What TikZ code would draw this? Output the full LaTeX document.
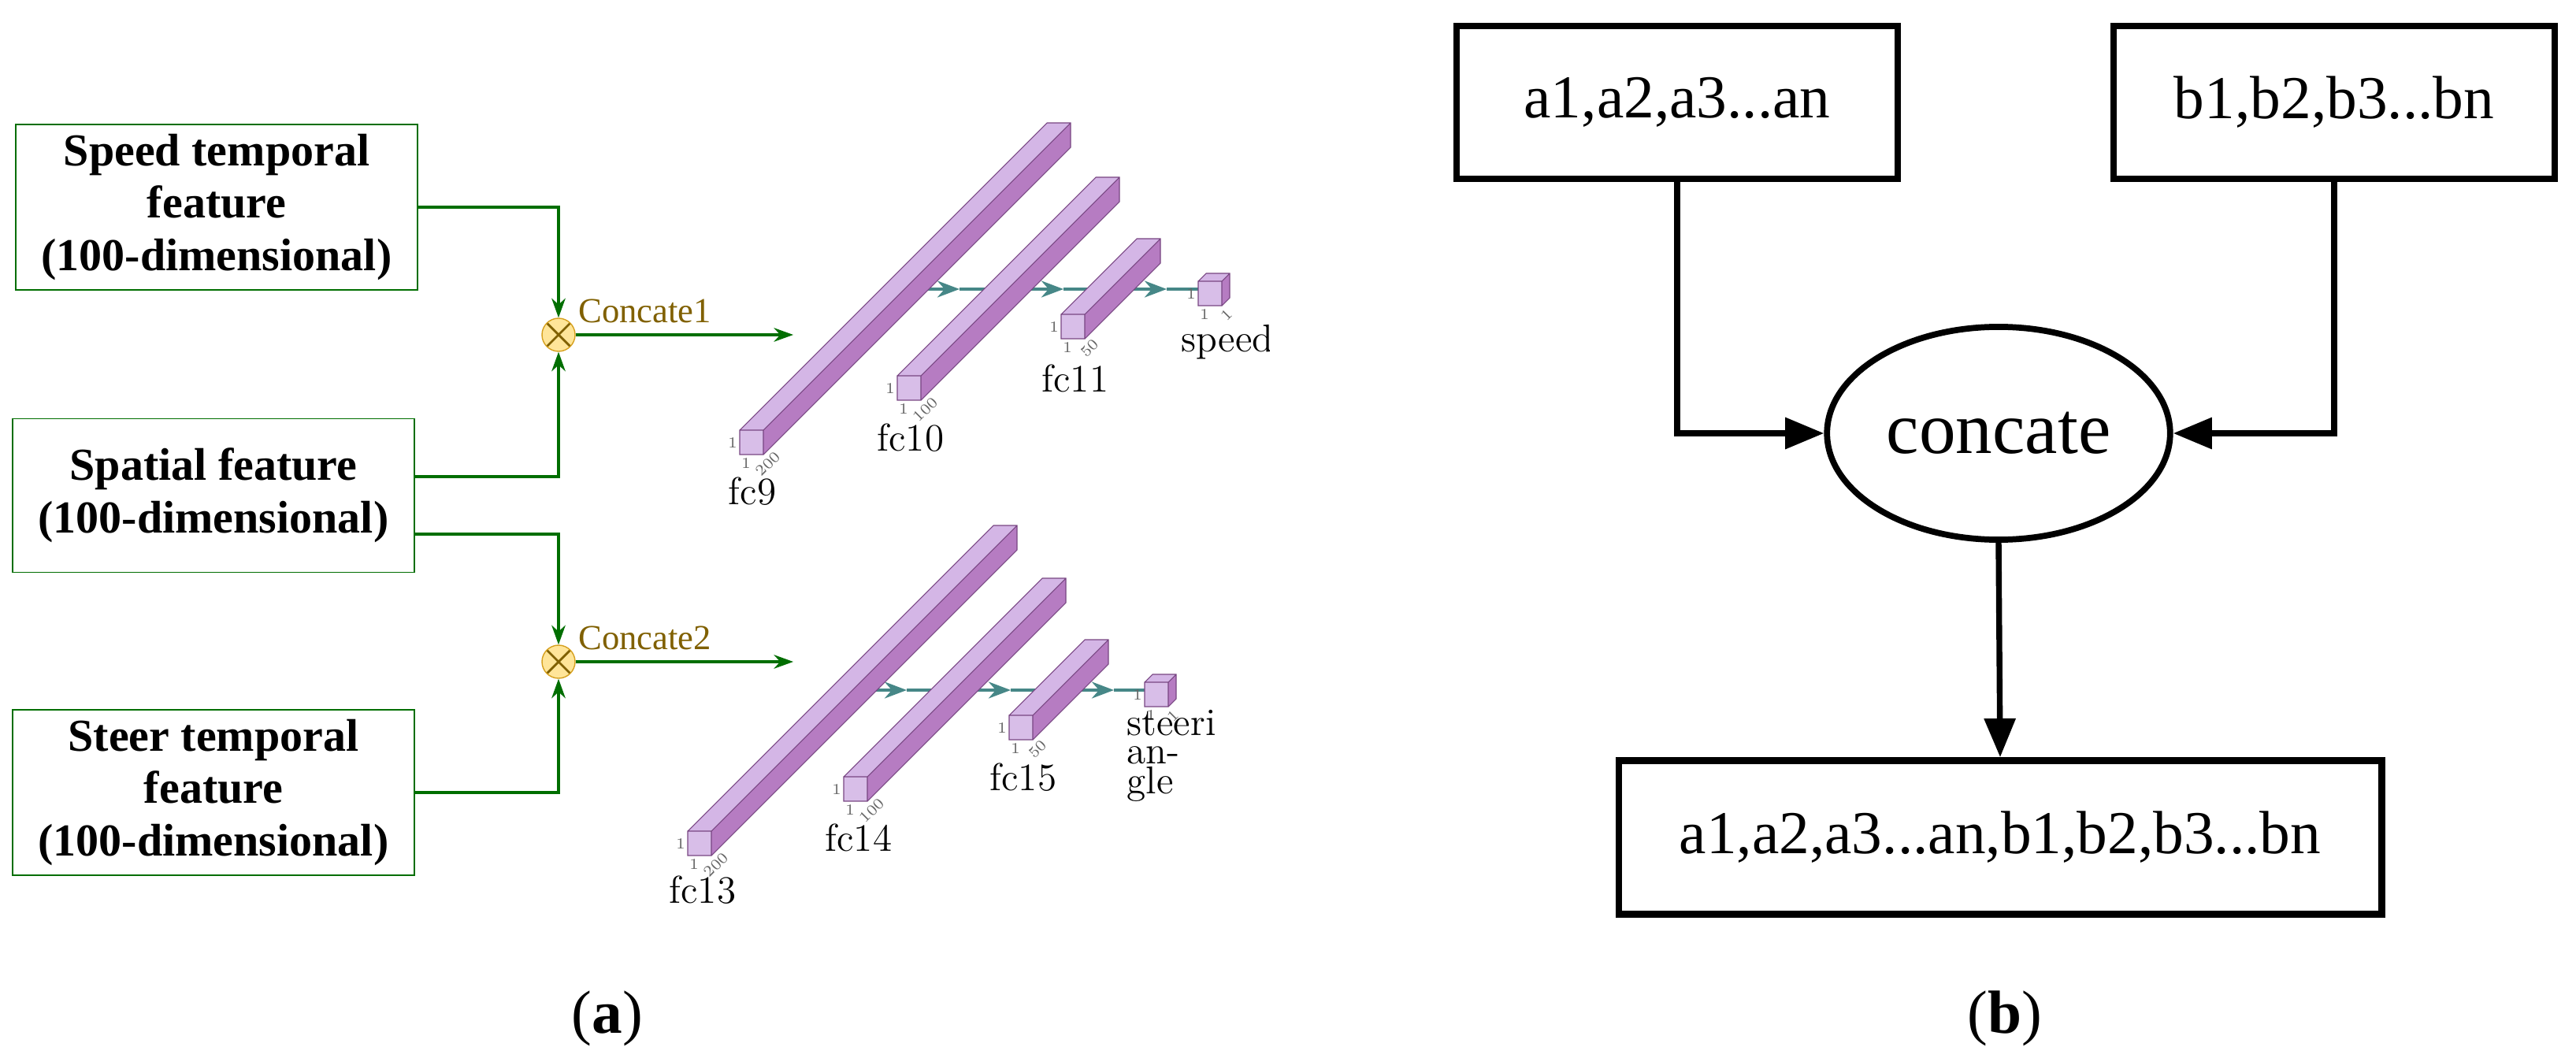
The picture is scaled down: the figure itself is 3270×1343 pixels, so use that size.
\documentclass[tikz,border=0pt]{standalone}
\usepackage{fontspec}
\newfontfamily\tnr{Liberation Serif}
\usetikzlibrary{arrows.meta,shapes.geometric}

\definecolor{boxgreen}{RGB}{0,110,0}
\definecolor{catbrown}{RGB}{128,96,0}
\definecolor{catfill}{RGB}{255,229,153}
\definecolor{catdraw}{RGB}{214,160,30}
\definecolor{barfront}{RGB}{216,190,232}
\definecolor{bartop}{RGB}{212,182,230}
\definecolor{barside}{RGB}{182,124,194}
\definecolor{barline}{RGB}{120,70,130}
\definecolor{flowteal}{RGB}{70,135,135}

\tikzset{
  feat/.style={draw=boxgreen, line width=0.5pt, minimum width=5.09cm, minimum height=1.95cm,
    align=center, font=\tnr\fontsize{16.5}{19}\selectfont\bfseries},
  cat/.style={circle, draw=catdraw, fill=catfill, minimum size=0.42cm, inner sep=0pt,
    path picture={\draw[catbrown, line width=0.8pt]
      ([shift={(135:0.21cm)}]path picture bounding box.center) -- ([shift={(-45:0.21cm)}]path picture bounding box.center)
      ([shift={(45:0.21cm)}]path picture bounding box.center) -- ([shift={(-135:0.21cm)}]path picture bounding box.center);}},
  catlabel/.style={anchor=west, text=catbrown, font=\tnr\fontsize{12.7}{14}\selectfont},
  garrow/.style={draw=boxgreen, line width=0.9pt, -{Stealth[length=7pt,width=5pt]}},
  flow/.style={draw=flowteal, line width=0.9pt},
  fclabel/.style={font=\fontsize{14}{9}\selectfont},
  dimlabel/.style={font=\fontsize{5.5}{6}\selectfont, text=black!60, inner sep=0.5pt},
  seq/.style={draw, line width=2.4pt, minimum width=5.6cm, minimum height=1.94cm,
    font=\tnr\fontsize{22}{24}\selectfont},
  barrow/.style={line width=2.1pt, -{Triangle[length=14pt,width=11pt]}},
}

% fc block: front face lower-left corner (#1,#2), depth #3, depth label #4
\newcommand\fcblock[4]{%
  \fill[barside] (#1+30,#2) -- (#1+30,#2-31) -- (#1+30+#3,#2-31-#3) -- (#1+30+#3,#2-#3) -- cycle;
  \fill[bartop] (#1,#2-31) -- (#1+30,#2-31) -- (#1+30+#3,#2-31-#3) -- (#1+#3,#2-31-#3) -- cycle;
  \fill[barfront] (#1,#2) rectangle (#1+30,#2-31);
  \draw[barline, line width=0.3pt] (#1,#2) rectangle (#1+30,#2-31)
    (#1+30,#2) -- (#1+30+#3,#2-#3) -- (#1+30+#3,#2-31-#3) -- (#1+#3,#2-31-#3) -- (#1,#2-31)
    (#1+30,#2-31) -- (#1+30+#3,#2-31-#3);
  \node[dimlabel] at (#1-9,#2-15) {1};
  \node[dimlabel] at (#1+8,#2+11) {1};
  \node[dimlabel, rotate=45] at (#1+36,#2+12) {#4};
}

\begin{document}
\begin{tikzpicture}[x=0.01cm, y=-0.01cm]
  \useasboundingbox (0,0) rectangle (3270,1343);

  % (a) feature inputs
  \node[feat] (speed)   at (275,263)  {Speed temporal\\feature\\(100-dimensional)};
  \node[feat] (spatial) at (271,629)  {Spatial feature\\(100-dimensional)};
  \node[feat] (steer)   at (271,1006) {Steer temporal\\feature\\(100-dimensional)};

  \node[cat] (cat1) at (709,425) {};
  \node[cat] (cat2) at (709,840) {};
  \node[catlabel] at (722,395) {Concate1};
  \node[catlabel] at (722,810) {Concate2};

  \coordinate (in1) at (1007,425);
  \coordinate (in2) at (1007,840);

  \draw[garrow] (speed.east) -| (cat1.north);
  \draw[garrow] ([yshift=0.24cm]spatial.east) -| (cat1.south);
  \draw[garrow] ([yshift=-0.49cm]spatial.east) -| (cat2.north);
  \draw[garrow] (steer.east) -| (cat2.south);
  \draw[garrow] (cat1.east) -- (in1);
  \draw[garrow] (cat2.east) -- (in2);

  % speed branch
  \coordinate (s1) at (1164,367); \coordinate (s1m) at (1218,367); \coordinate (s2) at (1263,367);
  \coordinate (s3) at (1296,367); \coordinate (s3m) at (1350,367); \coordinate (s4) at (1396,367);
  \coordinate (s5) at (1427,367); \coordinate (s5m) at (1481,367); \coordinate (s6) at (1528,367);
  \draw[flow, -{Stealth[length=8pt,width=6pt]}] (s1) -- (s1m);
  \draw[flow] (s1m) -- (s2);
  \draw[flow, -{Stealth[length=8pt,width=6pt]}] (s3) -- (s3m);
  \draw[flow] (s3m) -- (s4);
  \draw[flow, -{Stealth[length=8pt,width=6pt]}] (s5) -- (s5m);
  \draw[flow] (s5m) -- (s6);
  \fcblock{939}{577}{390}{200}
  \fcblock{1139}{508}{252}{100}
  \fcblock{1347}{430}{96}{50}
  \fcblock{1521}{388}{10}{1}
  \node[fclabel] (fc9)  at (955,624)  {fc9};
  \node[fclabel] (fc10) at (1156,556) {fc10};
  \node[fclabel] (fc11) at (1365,480) {fc11};
  \begin{scope}
    \clip (1480,400) rectangle (1611,460);
    \node[fclabel] (speedout) at (1558,434) {speed};
  \end{scope}

  % steer branch
  \begin{scope}[shift={(-67,509)}]
    \coordinate (t1) at (1164,367); \coordinate (t1m) at (1218,367); \coordinate (t2) at (1263,367);
    \coordinate (t3) at (1296,367); \coordinate (t3m) at (1350,367); \coordinate (t4) at (1396,367);
    \coordinate (t5) at (1427,367); \coordinate (t5m) at (1481,367); \coordinate (t6) at (1525,367);
    \draw[flow, -{Stealth[length=8pt,width=6pt]}] (t1) -- (t1m);
    \draw[flow] (t1m) -- (t2);
    \draw[flow, -{Stealth[length=8pt,width=6pt]}] (t3) -- (t3m);
    \draw[flow] (t3m) -- (t4);
    \draw[flow, -{Stealth[length=8pt,width=6pt]}] (t5) -- (t5m);
    \draw[flow] (t5m) -- (t6);
    \fcblock{940}{577}{388}{200}
    \fcblock{1138}{508}{252}{100}
    \fcblock{1348}{430}{96}{50}
    \fcblock{1520}{388}{10}{1}
    \node[fclabel] (fc13) at (959,621) {fc13};
    \node[fclabel] (fc14) at (1157,554) {fc14};
    \node[fclabel] (fc15) at (1366,478) {fc15};
    \begin{scope}
      \clip (1490,388) rectangle (1609,520);
      \node[fclabel, align=left, anchor=north west, inner sep=0pt] (steerout) at (1497,392)
        {steering\\an-\\gle};
    \end{scope}
  \end{scope}

  \node[font=\tnr\fontsize{22}{24}\selectfont] at (771,1293) {(\textbf{a})};

  % (b) concatenation
  \node[seq] (avec) at (2129,130) {a1,a2,a3...an};
  \node[seq] (bvec) at (2963,130) {b1,b2,b3...bn};
  \node[ellipse, draw, line width=2.2pt, minimum width=4.06cm, minimum height=2.7cm,
    font=\tnr\fontsize{26.5}{28}\selectfont] (concat) at (2537,550) {concate};
  \node[seq, minimum width=9.68cm, minimum height=1.95cm] (abvec) at (2539,1063)
    {a1,a2,a3...an,b1,b2,b3...bn};
  \draw[barrow] (avec.south) |- (concat.west);
  \draw[barrow] (bvec.south) |- (concat.east);
  \draw[barrow] (concat.south) -- (abvec.north);

  \node[font=\tnr\fontsize{22}{24}\selectfont] at (2545,1293) {(\textbf{b})};
\end{tikzpicture}
\end{document}
